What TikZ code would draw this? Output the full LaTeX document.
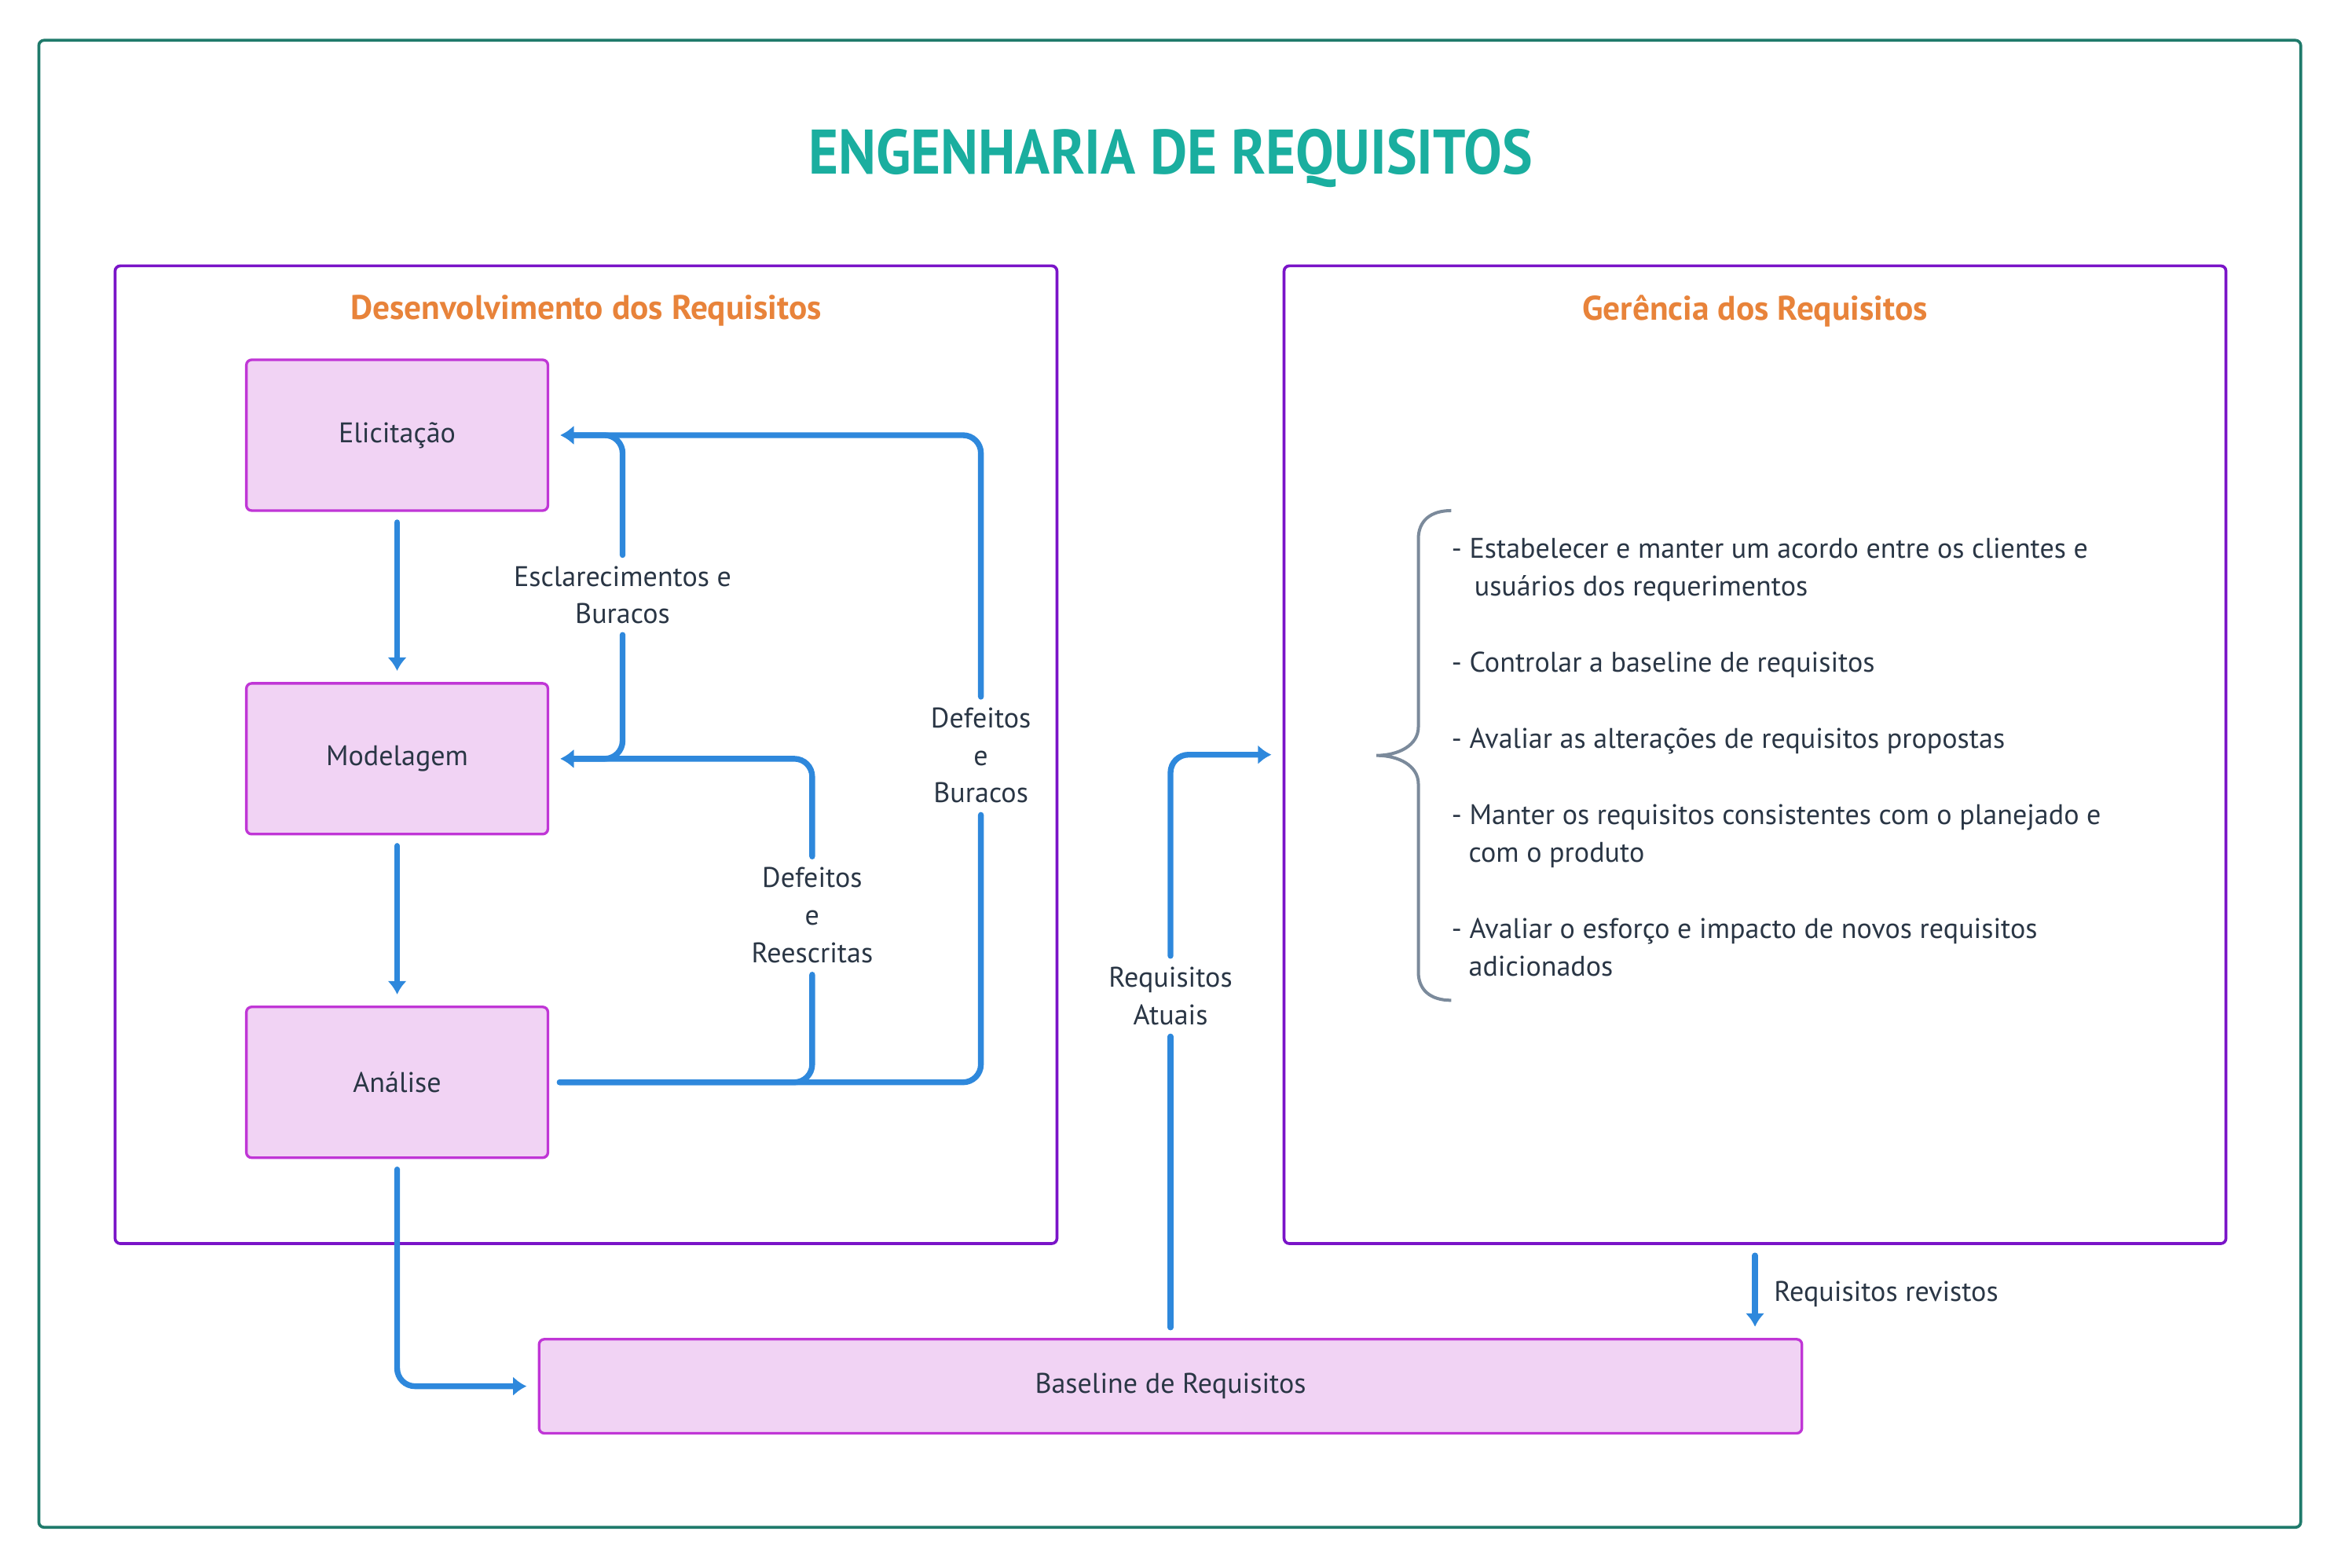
\documentclass[tikz,border=0pt]{standalone}
\usepackage{fontspec}
\setmainfont{PT Sans}
\newfontfamily\headfont[FakeStretch=0.91]{PT Sans}
\usetikzlibrary{positioning,arrows.meta}

\definecolor{framegreen}{HTML}{1F7A6B}
\definecolor{titleteal}{HTML}{1AAE9F}
\definecolor{panelpurple}{HTML}{7A14C8}
\definecolor{headorange}{HTML}{E8833A}
\definecolor{boxfill}{HTML}{F1D3F4}
\definecolor{boxline}{HTML}{C036D6}
\definecolor{flowblue}{HTML}{2E88DC}
\definecolor{bracegray}{HTML}{7B8A9B}
\definecolor{textdark}{HTML}{2A3645}

\begin{document}
\begin{tikzpicture}[x=0.02cm, y=-0.02cm, node distance=2.28cm, font=\fontsize{10.8}{14.3}\selectfont, text=textdark,
    >={Latex[length=0.18cm,width=0.26cm]},
    main node/.style={rectangle, draw=boxline, fill=boxfill, line width=1pt, rounded corners=2pt, minimum width=4.04cm, minimum height=2.02cm},
    panel/.style={rectangle, draw=panelpurple, line width=1.1pt, rounded corners=2pt, minimum width=12.62cm, minimum height=13.1cm},
    panel title/.style={font=\bfseries\fontsize{13}{15}\selectfont, text=headorange},
    flow/.style={draw=flowblue, line width=2.2pt, rounded corners=0.24cm, line cap=round, shorten <=0.14cm, shorten >=0.15cm},
    flow label/.style={align=center, inner sep=0pt}]

    \fill[white] (0,0) rectangle (1568,1050);
    \draw[framegreen, line width=1.1pt, rounded corners=2pt] (26,27) rectangle (1541,1023);
    \node[font=\headfont\bfseries\fontsize{24}{28}\selectfont, text=titleteal] (title) at (784,106) {ENGENHARIA DE REQUISITOS};

    % the two parts
    \node[panel] (dev) at (392.5,505.5) {};
    \node[panel] (ger) at (1175.5,505.5) {};
    \node[panel title] (devtitle) at ([yshift=-0.62cm]dev.north) {Desenvolvimento dos Requisitos};
    \node[panel title] (gertitle) at ([yshift=-0.62cm]ger.north) {Gerência dos Requisitos};

    \node[main node] (eli) at (266,291.5) {Elicitação};
    \node[main node, below=of eli] (mod) {Modelagem};
    \node[main node, below=of mod] (ana) {Análise};
    \node[main node, minimum width=16.92cm, minimum height=1.26cm] (base) at (784,928.5) {Baseline de Requisitos};

    \node[flow label] (esc) at (417,398.5) {Esclarecimentos e\\Buracos};
    \node[flow label] (dr) at (544,613) {Defeitos\\e\\Reescritas};
    \node[flow label] (db) at (657,506) {Defeitos\\e\\Buracos};
    \node[flow label] (ra) at (784,667) {Requisitos\\Atuais};

    \draw[flow, ->] (eli) -- (mod);
    \draw[flow, ->] (mod) -- (ana);
    \draw[flow, ->] (esc) |- (eli);
    \draw[flow, ->] (esc) |- (mod);
    \draw[flow] (ana) -| (dr);
    \draw[flow, ->] (dr) |- (mod);
    \draw[flow] (ana) -| (db);
    \draw[flow, ->] (db) |- (eli);
    \draw[flow, ->] (ana) |- (base);
    \draw[flow] (base) -- (ra);
    \draw[flow, ->] (ra) |- (ger);
    \draw[flow, ->] (ger.south) -- (ger.south |- base.north) node[midway, right=0.1cm, yshift=-0.04cm] (rev) {Requisitos revistos};

    % brace and list
    \draw[bracegray, line width=1.2pt] (972,342) .. controls (958,342) and (950,349) .. (950,361) -- (950,487)
        .. controls (950,499) and (937,506) .. (922,506) .. controls (937,506) and (950,513) .. (950,525)
        -- (950,651) .. controls (950,663) and (958,670) .. (972,670);
    \node[anchor=north west, align=left, inner sep=0pt] (tasks) at (972,360) {- Estabelecer e manter um acordo entre os clientes e\\
        \hspace*{0.8em}usuários dos requerimentos\\[14.8pt]
        - Controlar a baseline de requisitos\\[14.8pt]
        - Avaliar as alterações de requisitos propostas\\[14.8pt]
        - Manter os requisitos consistentes com o planejado e\\
        \hspace*{0.6em}com o produto\\[14.8pt]
        - Avaliar o esforço e impacto de novos requisitos\\
        \hspace*{0.6em}adicionados};
\end{tikzpicture}
\end{document}
